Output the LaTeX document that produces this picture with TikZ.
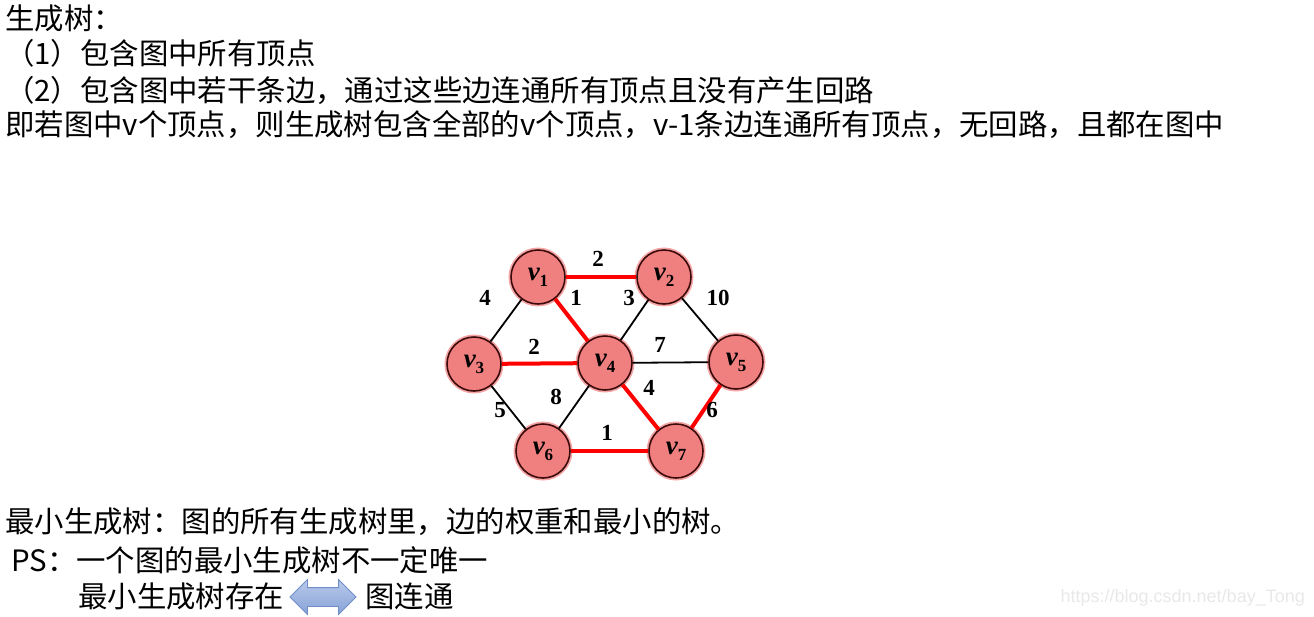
\documentclass[tikz,border=0pt]{standalone}
\usepackage{fontspec}
\setmainfont{Noto Sans CJK SC}
\newfontfamily\wtfont{Liberation Serif}
\newfontfamily\urlfont{Liberation Sans}
\usetikzlibrary{shapes.arrows}

\definecolor{nodefill}{RGB}{240,128,128}
\definecolor{nodeline}{RGB}{60,10,10}
\definecolor{halo}{RGB}{245,165,165}
\definecolor{treered}{RGB}{255,0,0}
\definecolor{arrowtop}{RGB}{185,202,235}
\definecolor{arrowbottom}{RGB}{135,162,215}
\definecolor{arrowdraw}{RGB}{112,142,200}

\newcommand{\vlab}[1]{{\wtfont\bfseries\itshape\fontsize{27}{27}\selectfont v}\raisebox{-6pt}{\wtfont\bfseries\fontsize{17}{17}\selectfont #1}}

\begin{document}
\begin{tikzpicture}[x=1pt, y=-1pt]
    % Define styles
    \tikzset{
        txt/.style={
            anchor=west,
            inner sep=0pt,
            font=\fontsize{29.4}{34}\selectfont
        },
        vertex/.style={
            circle,
            draw=nodeline,
            line width=1.6pt,
            fill=nodefill,
            minimum size=54pt,
            inner sep=0pt,
            preaction={draw=halo, line width=5pt}
        },
        span/.style={
            draw=treered,
            line width=4pt
        },
        link/.style={
            draw=black,
            line width=1.8pt
        },
        weight/.style={
            inner sep=0pt,
            font=\wtfont\bfseries\fontsize{23}{23}\selectfont
        }
    }
    \useasboundingbox (0,0) rectangle (1314,616);

    % Definition of a spanning tree
    \node[txt] (title) at (5,18) {生成树：};
    \node[txt] (cond1) at (5,53) {（1）包含图中所有顶点};
    \node[txt] (cond2) at (5,90) {（2）包含图中若干条边，通过这些边连通所有顶点且没有产生回路};
    \node[txt] (summary) at (5,125) {即若图中v个顶点，则生成树包含全部的v个顶点，v-1条边连通所有顶点，无回路，且都在图中};

    % Vertices
    \node[vertex] (v1) at (538,277) {\vlab{1}};
    \node[vertex] (v2) at (664,277) {\vlab{2}};
    \node[vertex] (v3) at (474,364) {\vlab{3}};
    \node[vertex] (v4) at (605,363) {\vlab{4}};
    \node[vertex] (v5) at (736,362) {\vlab{5}};
    \node[vertex] (v6) at (543,451) {\vlab{6}};
    \node[vertex] (v7) at (676,451) {\vlab{7}};

    % Edges not in the tree
    \draw[link] (v1) -- (v3);
    \draw[link] (v2) -- (v4);
    \draw[link] (v2) -- (v5);
    \draw[link] (v4) -- (v5);
    \draw[link] (v3) -- (v6);
    \draw[link] (v4) -- (v6);

    % Edges of the minimum spanning tree
    \draw[span] (v1) -- (v2);
    \draw[span] (v1) -- (v4);
    \draw[span] (v3) -- (v4);
    \draw[span] (v4) -- (v7);
    \draw[span] (v5) -- (v7);
    \draw[span] (v6) -- (v7);

    % Weights
    \node[weight] (w12) at (598,259) {2};
    \node[weight] (w13) at (485,298) {4};
    \node[weight] (w14) at (576,298) {1};
    \node[weight] (w24) at (629,298) {3};
    \node[weight] (w25) at (718,298) {10};
    \node[weight] (w34) at (534,347) {2};
    \node[weight] (w45) at (660,345) {7};
    \node[weight] (w46) at (556,397) {8};
    \node[weight] (w36) at (500,410) {5};
    \node[weight] (w47) at (649,388) {4};
    \node[weight] (w57) at (712,410) {6};
    \node[weight] (w67) at (607,433) {1};

    % Minimum spanning tree
    \node[txt] (mst) at (5,522) {最小生成树：图的所有生成树里，边的权重和最小的树。};
    \node[txt] (ps) at (11,560) {PS：一个图的最小生成树不一定唯一};
    \node[txt] (exist) at (78,596) {最小生成树存在};
    \node[txt] (conn) at (365,596) {图连通};
    \node[double arrow, draw=arrowdraw, top color=arrowtop, bottom color=arrowbottom, line width=0.8pt,
          minimum height=66pt, inner xsep=0pt, inner ysep=9pt,
          double arrow head extend=8pt] (equiv) at (323,597) {};

    % Watermark
    \node[anchor=east, inner sep=0pt, text=black!9, font=\urlfont\fontsize{18}{18}\selectfont] (url) at (1305,598) {https://blog.csdn.net/bay\_Tong};
\end{tikzpicture}
\end{document}
